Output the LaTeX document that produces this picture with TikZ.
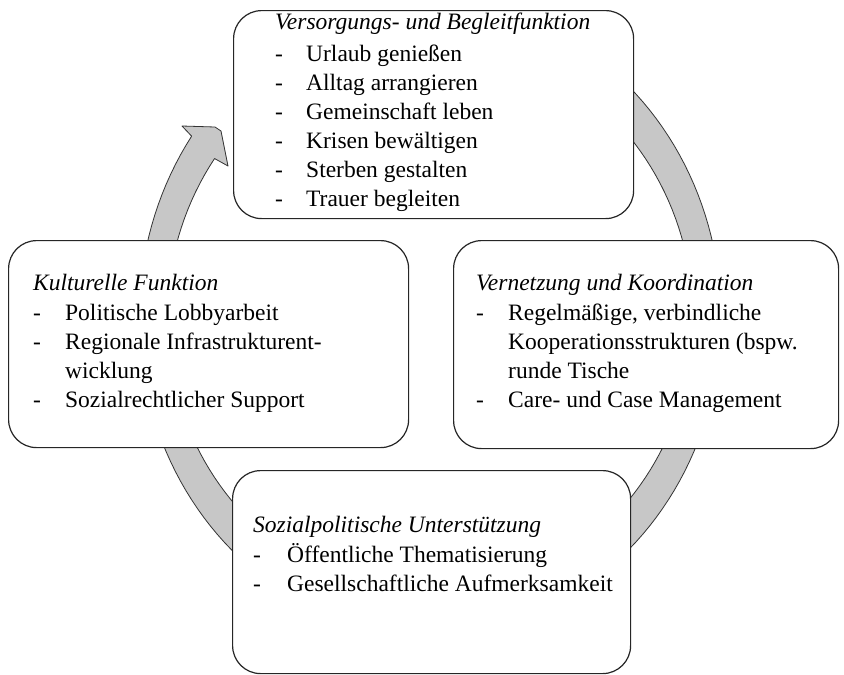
\documentclass[tikz,border=0pt]{standalone}
\usepackage{fontspec}
\setmainfont{Liberation Serif}
\usepackage{array}
\begin{document}
\begin{tikzpicture}[x=1pt,y=-1pt,
  band/.style={fill=black!22,draw=black!80,line width=0.8pt,line join=round},
  cbox/.style={draw=black!85,line width=1.2pt,fill=white,rounded corners=28pt,
    rectangle,inner sep=0pt,anchor=north west},
  txt/.style={inner sep=0pt,anchor=base west,font=\fontsize{23.5}{29}\selectfont}
]
\useasboundingbox (0,0) rectangle (844,675);
% circular arrow band
\path[band] plot[domain=-65:215,samples=141] ({430+291*cos(\x)},{318+317*sin(\x)})
  -- (182,126) -- (215,127) -- (221,131) -- (228,166)
  -- plot[domain=215:-65,samples=141] ({430+263*cos(\x)},{318+278*sin(\x)}) -- cycle;
% boxes
\node[cbox,minimum width=400pt,minimum height=208pt] (top) at (233,10) {};
\node[cbox,minimum width=400pt,minimum height=207pt] (left) at (8,240) {};
\node[cbox,minimum width=385pt,minimum height=208pt] (right) at (453,240) {};
\node[cbox,minimum width=398pt,minimum height=203pt] (bottom) at (232,470) {};
% texts
\node[txt] (ttop) at (275,29) {\begin{tabular}[t]{@{}p{31pt}@{}l@{}}
\multicolumn{2}{@{}l@{}}{\itshape Versorgungs- und Begleitfunktion}\\[3pt]
- & Urlaub genießen\\
- & Alltag arrangieren\\
- & Gemeinschaft leben\\
- & Krisen bewältigen\\
- & Sterben gestalten\\
- & Trauer begleiten
\end{tabular}};
\node[txt] (tleft) at (33,290) {\begin{tabular}[t]{@{}p{32pt}@{}l@{}}
\multicolumn{2}{@{}l@{}}{\itshape Kulturelle Funktion}\\[1pt]
- & Politische Lobbyarbeit\\
- & Regionale Infrastrukturent-\\
 & wicklung\\
- & Sozialrechtlicher Support
\end{tabular}};
\node[txt] (tright) at (476,290) {\begin{tabular}[t]{@{}p{32pt}@{}l@{}}
\multicolumn{2}{@{}l@{}}{\itshape Vernetzung und Koordination}\\[1pt]
- & Regelmäßige, verbindliche\\
 & Kooperationsstrukturen (bspw.\\
 & runde Tische\\
- & Care- und Case Management
\end{tabular}};
\node[txt] (tbottom) at (253,532) {\begin{tabular}[t]{@{}p{34pt}@{}l@{}}
\multicolumn{2}{@{}l@{}}{\itshape Sozialpolitische Unterstützung}\\[1pt]
- & Öffentliche Thematisierung\\
- & Gesellschaftliche Aufmerksamkeit
\end{tabular}};
\end{tikzpicture}
\end{document}
